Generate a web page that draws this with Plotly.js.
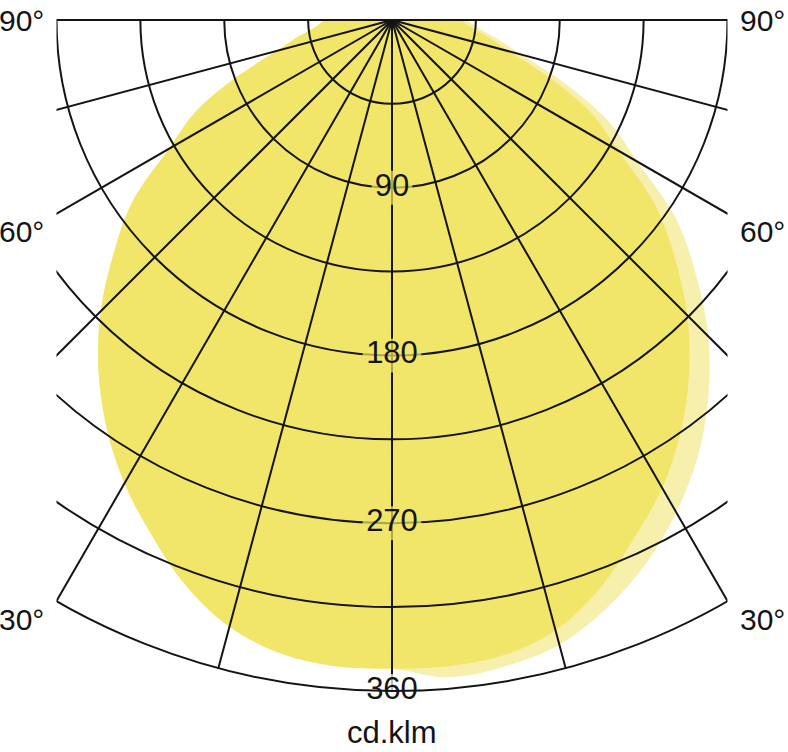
<!DOCTYPE html>
<html>
<head>
<meta charset="utf-8">
<script src="https://cdn.plot.ly/plotly-3.0.1.min.js"></script>
<style>
html,body{margin:0;padding:0;background:#fff;overflow:hidden;width:788px;height:752px;}
#wrap{position:absolute;left:0;top:0;width:788px;height:752px;overflow:hidden;}
#chart{position:absolute;left:-279px;top:0;width:1342px;height:752px;}
</style>
</head>
<body>
<div id="wrap"><div id="chart"></div></div>
<script>
// gamma angles (degrees from nadir)
const angles = [0,5,10,15,20,25,30,35,40,45,50,55,60,65,70,75,80,85,90];
// luminous intensity, cd/klm — main curve, left half
const mainLeft  = [348,348,345,337,323,305,287,267,245,221,195,170,138,116,88,64,51,41,36];
// main curve, right half
const mainRight = [348,348,346,339,325,307,290,270,248,224,198,172,140,118,89,65,52,42,37];
// second (lighter) curve, right half
const lightRight = [354,354,352,347,336,322,305,286,264,240,213,186,152,128,98,72,57,46,40];

const radialTicks = [45,90,135,180,225,270,315,360];
const labelRadii = [90,180,270,360];
const labelTexts = ['90','180','270','360'];
const angleLabels = ['90°','60°','30°'];
const unitLabel = 'cd.klm';

const YEL = '#f1e66a';
const YEL_LIGHT = '#f6f0ac';
const INK = '#141414';
const FONT = 'Liberation Sans, Arial, sans-serif';

// build full curves: right side as negative angles, left side positive
function curve(rightVals, leftVals){
  const th = [], r = [];
  for(let i = angles.length-1; i > 0; i--){ th.push(-angles[i]); r.push(rightVals[i]); }
  for(let i = 0; i < angles.length; i++){ th.push(angles[i]); r.push(leftVals[i]); }
  return {th, r};
}
const lightC = curve(lightRight, mainLeft);
const mainC = curve(mainRight, mainLeft);

const traces = [
  {type:'scatterpolar', subplot:'polar', theta:lightC.th, r:lightC.r, mode:'lines',
   fill:'toself', fillcolor:YEL_LIGHT, line:{width:0, color:YEL_LIGHT, shape:'spline'}, hoverinfo:'skip'},
  {type:'scatterpolar', subplot:'polar', theta:mainC.th, r:mainC.r, mode:'lines',
   fill:'toself', fillcolor:YEL, line:{width:0, color:YEL, shape:'spline'}, hoverinfo:'skip'},
  {type:'scatterpolar', subplot:'polar2', theta:labelRadii.map(()=>0), r:labelRadii,
   mode:'markers+text', text:labelTexts, textposition:'middle center',
   textfont:{family:FONT, size:31, color:INK},
   marker:{symbol:'line-ew', size:[29,42,42,42],
           color:[YEL,YEL,YEL,'#ffffff'],
           line:{width:34, color:[YEL,YEL,YEL,'#ffffff']}},
   cliponaxis:false, hoverinfo:'skip'}
];

const hiddenRadial = {range:[0,360], showgrid:false, showline:false, showticklabels:false, ticks:''};
const hiddenAngular = {rotation:-90, direction:'clockwise', showgrid:false, showline:false, showticklabels:false, ticks:''};

const layout = {
  width:1342, height:752,
  margin:{l:0, r:0, t:20, b:61},
  paper_bgcolor:'#ffffff',
  showlegend:false,
  polar:{domain:{x:[0,1], y:[0,1]}, sector:[180,360], bgcolor:'#ffffff',
         radialaxis:hiddenRadial, angularaxis:hiddenAngular},
  polar2:{domain:{x:[0,1], y:[0,1]}, sector:[180,360], bgcolor:'rgba(0,0,0,0)',
          radialaxis:{range:[0,360], tickmode:'array', tickvals:radialTicks, showgrid:true,
                      gridcolor:INK, gridwidth:2, showline:false, showticklabels:false, ticks:''},
          angularaxis:{rotation:-90, direction:'clockwise', tickmode:'linear', tick0:0, dtick:15,
                       showgrid:true, gridcolor:INK, gridwidth:2, showline:true, linecolor:INK,
                       linewidth:2, showticklabels:false, ticks:''}},
  shapes:[
    {type:'rect', xref:'paper', yref:'paper', x0:-0.05, x1:0.25, y0:-0.3, y1:1.1, fillcolor:'#ffffff', line:{width:0}, layer:'above'},
    {type:'rect', xref:'paper', yref:'paper', x0:0.75, x1:1.05, y0:-0.3, y1:1.1, fillcolor:'#ffffff', line:{width:0}, layer:'above'}
  ],
  annotations:[]
};

const labelY = [1.0, 0.6855, 0.1073];
angleLabels.forEach((t,i)=>{
  layout.annotations.push({xref:'paper', yref:'paper', x:0.2425, y:labelY[i], xanchor:'right', yanchor:'middle',
    text:t, showarrow:false, font:{family:FONT, size:30, color:INK}});
  layout.annotations.push({xref:'paper', yref:'paper', x:0.7575, y:labelY[i], xanchor:'left', yanchor:'middle',
    text:t, showarrow:false, font:{family:FONT, size:30, color:INK}});
});
layout.annotations.push({xref:'paper', yref:'paper', x:0.5, y:-0.0895, xanchor:'center', yanchor:'bottom',
  text:unitLabel, showarrow:false, borderpad:0, font:{family:FONT, size:31, color:INK}});

Plotly.newPlot('chart', traces, layout, {staticPlot:true, displayModeBar:false});
</script>
</body>
</html>
